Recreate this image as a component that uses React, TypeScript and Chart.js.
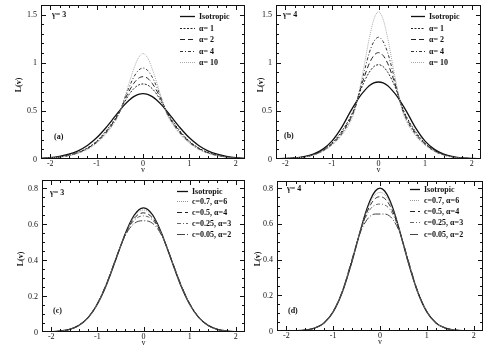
import React, { useEffect, useRef } from "react";
import { Chart, registerables } from "chart.js";
Chart.register(...registerables);

// shared velocity grid
const V = [-2.2, -2, -1.8, -1.6, -1.4, -1.2, -1, -0.8, -0.6, -0.5, -0.4, -0.3, -0.2, -0.1, 0, 0.1, 0.2, 0.3, 0.4, 0.5, 0.6, 0.8, 1, 1.2, 1.4, 1.6, 1.8, 2, 2.2];
const X_TICKS = [-2, -1, 0, 1, 2];
const Y_TICKS_TOP = [0, 0.5, 1, 1.5];
const Y_TICKS_BOTTOM = [0, 0.2, 0.4, 0.6, 0.8];
const TOP_LABELS = ["Isotropic", "α= 1", "α= 2", "α= 4", "α= 10"];
const BOTTOM_LABELS = ["Isotropic", "c=0.7, α=6", "c=0.5, α=4", "c=0.25, α=3", "c=0.05, α=2"];

// panel (a) gamma = 3
const A_ISO = [0.007, 0.014, 0.028, 0.05, 0.085, 0.14, 0.22, 0.325, 0.445, 0.505, 0.562, 0.61, 0.648, 0.672, 0.68, 0.672, 0.648, 0.61, 0.562, 0.505, 0.445, 0.325, 0.22, 0.14, 0.085, 0.05, 0.028, 0.014, 0.007];
const A_A1 = [0.005, 0.011, 0.022, 0.04, 0.068, 0.115, 0.185, 0.29, 0.42, 0.5, 0.59, 0.67, 0.73, 0.768, 0.78, 0.768, 0.73, 0.67, 0.59, 0.5, 0.42, 0.29, 0.185, 0.115, 0.068, 0.04, 0.022, 0.011, 0.005];
const A_A2 = [0.005, 0.011, 0.021, 0.038, 0.065, 0.11, 0.178, 0.28, 0.41, 0.495, 0.61, 0.705, 0.785, 0.838, 0.855, 0.838, 0.785, 0.705, 0.61, 0.495, 0.41, 0.28, 0.178, 0.11, 0.065, 0.038, 0.021, 0.011, 0.005];
const A_A4 = [0.005, 0.01, 0.02, 0.036, 0.062, 0.105, 0.172, 0.27, 0.4, 0.49, 0.625, 0.745, 0.85, 0.92, 0.945, 0.92, 0.85, 0.745, 0.625, 0.49, 0.4, 0.27, 0.172, 0.105, 0.062, 0.036, 0.02, 0.01, 0.005];
const A_A10 = [0.005, 0.01, 0.019, 0.034, 0.06, 0.1, 0.165, 0.258, 0.39, 0.485, 0.63, 0.79, 0.935, 1.05, 1.095, 1.05, 0.935, 0.79, 0.63, 0.485, 0.39, 0.258, 0.165, 0.1, 0.06, 0.034, 0.019, 0.01, 0.005];

// panel (b) gamma = 4
const B_ISO = [0.002, 0.005, 0.011, 0.024, 0.05, 0.1, 0.185, 0.32, 0.495, 0.575, 0.65, 0.71, 0.76, 0.79, 0.8, 0.79, 0.76, 0.71, 0.65, 0.575, 0.495, 0.32, 0.185, 0.1, 0.05, 0.024, 0.011, 0.005, 0.002];
const B_A1 = [0.002, 0.005, 0.01, 0.022, 0.045, 0.09, 0.165, 0.28, 0.44, 0.55, 0.695, 0.81, 0.9, 0.96, 0.98, 0.96, 0.9, 0.81, 0.695, 0.55, 0.44, 0.28, 0.165, 0.09, 0.045, 0.022, 0.01, 0.005, 0.002];
const B_A2 = [0.002, 0.005, 0.01, 0.021, 0.043, 0.086, 0.158, 0.265, 0.425, 0.54, 0.71, 0.86, 0.99, 1.075, 1.105, 1.075, 0.99, 0.86, 0.71, 0.54, 0.425, 0.265, 0.158, 0.086, 0.043, 0.021, 0.01, 0.005, 0.002];
const B_A4 = [0.002, 0.004, 0.009, 0.02, 0.041, 0.082, 0.15, 0.252, 0.41, 0.53, 0.72, 0.92, 1.1, 1.22, 1.265, 1.22, 1.1, 0.92, 0.72, 0.53, 0.41, 0.252, 0.15, 0.082, 0.041, 0.02, 0.009, 0.004, 0.002];
const B_A10 = [0.002, 0.004, 0.009, 0.019, 0.039, 0.078, 0.143, 0.24, 0.39, 0.52, 0.74, 0.99, 1.25, 1.45, 1.53, 1.45, 1.25, 0.99, 0.74, 0.52, 0.39, 0.24, 0.143, 0.078, 0.039, 0.019, 0.009, 0.004, 0.002];

// panel (c) gamma = 3
const C_ISO = [0.0005, 0.0017, 0.0054, 0.015, 0.037, 0.08, 0.155, 0.265, 0.404, 0.476, 0.545, 0.605, 0.652, 0.682, 0.692, 0.682, 0.652, 0.605, 0.545, 0.476, 0.404, 0.265, 0.155, 0.08, 0.037, 0.015, 0.0054, 0.0017, 0.0005];
const C_C07 = [0.0005, 0.0017, 0.0054, 0.015, 0.037, 0.08, 0.156, 0.266, 0.405, 0.476, 0.543, 0.6, 0.645, 0.671, 0.68, 0.671, 0.645, 0.6, 0.543, 0.476, 0.405, 0.266, 0.156, 0.08, 0.037, 0.015, 0.0054, 0.0017, 0.0005];
const C_C05 = [0.0005, 0.0017, 0.0054, 0.015, 0.037, 0.081, 0.157, 0.268, 0.406, 0.476, 0.541, 0.594, 0.634, 0.657, 0.664, 0.657, 0.634, 0.594, 0.541, 0.476, 0.406, 0.268, 0.157, 0.081, 0.037, 0.015, 0.0054, 0.0017, 0.0005];
const C_C025 = [0.0005, 0.0017, 0.0054, 0.015, 0.037, 0.081, 0.158, 0.27, 0.408, 0.477, 0.539, 0.588, 0.623, 0.642, 0.647, 0.642, 0.623, 0.588, 0.539, 0.477, 0.408, 0.27, 0.158, 0.081, 0.037, 0.015, 0.0054, 0.0017, 0.0005];
const C_C005 = [0.0005, 0.0017, 0.0054, 0.015, 0.037, 0.082, 0.16, 0.272, 0.41, 0.478, 0.535, 0.578, 0.605, 0.618, 0.62, 0.618, 0.605, 0.578, 0.535, 0.478, 0.41, 0.272, 0.16, 0.082, 0.037, 0.015, 0.0054, 0.0017, 0.0005];

// panel (d) gamma = 4
const D_ISO = [0.0001, 0.0003, 0.0012, 0.0047, 0.0156, 0.044, 0.107, 0.221, 0.388, 0.484, 0.58, 0.668, 0.738, 0.784, 0.8, 0.784, 0.738, 0.668, 0.58, 0.484, 0.388, 0.221, 0.107, 0.044, 0.0156, 0.0047, 0.0012, 0.0003, 0.0001];
const D_C07 = [0.0001, 0.0003, 0.0012, 0.0047, 0.0156, 0.044, 0.108, 0.222, 0.39, 0.485, 0.578, 0.66, 0.724, 0.764, 0.776, 0.764, 0.724, 0.66, 0.578, 0.485, 0.39, 0.222, 0.108, 0.044, 0.0156, 0.0047, 0.0012, 0.0003, 0.0001];
const D_C05 = [0.0001, 0.0003, 0.0012, 0.0048, 0.016, 0.045, 0.108, 0.223, 0.392, 0.486, 0.576, 0.652, 0.708, 0.742, 0.752, 0.742, 0.708, 0.652, 0.576, 0.486, 0.392, 0.223, 0.108, 0.045, 0.016, 0.0048, 0.0012, 0.0003, 0.0001];
const D_C025 = [0.0001, 0.0003, 0.0012, 0.0048, 0.016, 0.045, 0.109, 0.225, 0.395, 0.488, 0.573, 0.64, 0.685, 0.706, 0.711, 0.706, 0.685, 0.64, 0.573, 0.488, 0.395, 0.225, 0.109, 0.045, 0.016, 0.0048, 0.0012, 0.0003, 0.0001];
const D_C005 = [0.0001, 0.0003, 0.0012, 0.005, 0.016, 0.045, 0.11, 0.228, 0.4, 0.49, 0.565, 0.615, 0.645, 0.655, 0.655, 0.655, 0.645, 0.615, 0.565, 0.49, 0.4, 0.228, 0.11, 0.045, 0.016, 0.005, 0.0012, 0.0003, 0.0001];

type Style = { color: string; width: number; dash: number[] };
const TOP_STYLES: Style[] = [
  { color: "#111", width: 1.3, dash: [] },
  { color: "#222", width: 1, dash: [2, 1.5] },
  { color: "#222", width: 1, dash: [5, 3] },
  { color: "#333", width: 1, dash: [3, 2, 1, 2] },
  { color: "#aaa", width: 1, dash: [1, 1] },
];
const BOTTOM_STYLES: Style[] = [
  { color: "#111", width: 1.3, dash: [] },
  { color: "#999", width: 1, dash: [1, 1] },
  { color: "#222", width: 1, dash: [5, 3] },
  { color: "#666", width: 1, dash: [4, 2, 1, 2] },
  { color: "#444", width: 1, dash: [8, 2, 1, 2] },
];

const SERIF = "'Liberation Serif', 'DejaVu Serif', serif";

type PanelDef = {
  gamma: string;
  tag: string;
  series: number[][];
  labels: string[];
  styles: Style[];
  yMax: number;
  yTicks: number[];
  yMinor: number;
  yMajor: number;
  box: { left: number; top: number; w: number; h: number };
  yw: number;
  padTop: number;
  padRight: number;
  xh: number;
  legend: { x: number; y: number; dy: number; len: number; gap: number };
  gammaPos: [number, number];
  tagPos: [number, number];
  titleDX: number;
};

const PANELS: PanelDef[] = [
  {
    gamma: "γ= 3", tag: "(a)", series: [A_ISO, A_A1, A_A2, A_A4, A_A10], labels: TOP_LABELS, styles: TOP_STYLES,
    yMax: 1.6, yTicks: Y_TICKS_TOP, yMinor: 0.1, yMajor: 0.5,
    box: { left: 0, top: 0, w: 250, h: 175 }, yw: 41, padTop: 5, padRight: 5, xh: 16,
    legend: { x: 139, y: 11, dy: 11.6, len: 15, gap: 4 }, gammaPos: [11, 10], tagPos: [13, -22], titleDX: -22,
  },
  {
    gamma: "γ= 4", tag: "(b)", series: [B_ISO, B_A1, B_A2, B_A4, B_A10], labels: TOP_LABELS, styles: TOP_STYLES,
    yMax: 1.6, yTicks: Y_TICKS_TOP, yMinor: 0.1, yMajor: 0.5,
    box: { left: 240, top: 0, w: 249, h: 175 }, yw: 36, padTop: 5, padRight: 8, xh: 16,
    legend: { x: 135, y: 11, dy: 11.6, len: 14, gap: 4 }, gammaPos: [7, 10], tagPos: [8, -23], titleDX: -15,
  },
  {
    gamma: "γ= 3", tag: "(c)", series: [C_ISO, C_C07, C_C05, C_C025, C_C005], labels: BOTTOM_LABELS, styles: BOTTOM_STYLES,
    yMax: 0.85, yTicks: Y_TICKS_BOTTOM, yMinor: 0.05, yMajor: 0.2,
    box: { left: 0, top: 175, w: 250, h: 175 }, yw: 42, padTop: 4.5, padRight: 5, xh: 18,
    legend: { x: 135, y: 10.5, dy: 10.8, len: 11, gap: 4 }, gammaPos: [8, 13], tagPos: [11, -21], titleDX: -21,
  },
  {
    gamma: "γ= 4", tag: "(d)", series: [D_ISO, D_C07, D_C05, D_C025, D_C005], labels: BOTTOM_LABELS, styles: BOTTOM_STYLES,
    yMax: 0.84, yTicks: Y_TICKS_BOTTOM, yMinor: 0.05, yMajor: 0.2,
    box: { left: 240, top: 175, w: 249, h: 175 }, yw: 37, padTop: 6, padRight: 6, xh: 19,
    legend: { x: 133, y: 7.5, dy: 11.3, len: 10, gap: 4 }, gammaPos: [10, 8], tagPos: [11, -20], titleDX: -19,
  },
];

function buildChart(canvas: HTMLCanvasElement, p: PanelDef) {
  const framePlugin = {
    id: "frame",
    afterDraw(chart: any) {
      const ctx: CanvasRenderingContext2D = chart.ctx;
      const ca = chart.chartArea;
      const xs = chart.scales.x;
      const ys = chart.scales.y;
      const left = Math.round(ca.left);
      const right = Math.round(ca.right);
      const top = Math.round(ca.top);
      const bottom = Math.round(ca.bottom);
      ctx.save();
      ctx.setLineDash([]);
      ctx.globalAlpha = 1;
      ctx.fillStyle = "#111";
      // frame
      ctx.fillRect(left, top, right - left, 1);
      ctx.fillRect(left, bottom - 1, right - left, 1);
      ctx.fillRect(left, top, 1, bottom - top);
      ctx.fillRect(right - 1, top, 1, bottom - top);
      // x ticks: major every 1, minor every 0.2
      for (let i = -11; i <= 11; i++) {
        const px = Math.round(xs.getPixelForValue(i * 0.2));
        if (px < left + 1 || px > right - 2) continue;
        const L = i % 5 === 0 ? 5 : 3;
        ctx.fillRect(px, bottom - L, 1, L);
        ctx.fillRect(px, top, 1, L);
      }
      const nMinor = Math.round(p.yMax / p.yMinor);
      const ratio = Math.round(p.yMajor / p.yMinor);
      for (let i = 0; i <= nMinor; i++) {
        const py = Math.round(ys.getPixelForValue(i * p.yMinor));
        if (py < top + 1 || py > bottom - 2) continue;
        const L = i % ratio === 0 ? 5 : 3;
        ctx.fillRect(left, py, L, 1);
        ctx.fillRect(right - L, py, L, 1);
      }
      // tick labels
      ctx.font = `8px ${SERIF}`;
      ctx.fillStyle = "#111";
      ctx.textBaseline = "middle";
      ctx.textAlign = "center";
      X_TICKS.forEach((v) => {
        ctx.fillText(String(v), xs.getPixelForValue(v), bottom + 5);
      });
      ctx.textAlign = "right";
      p.yTicks.forEach((v) => {
        ctx.fillText(String(v), left - 4, ys.getPixelForValue(v) + 0.5);
      });
      // axis titles
      ctx.textAlign = "center";
      ctx.fillText("v", (left + right) / 2, bottom + 10.5);
      ctx.save();
      ctx.translate(left + p.titleDX, (top + bottom) / 2 + 3);
      ctx.rotate(-Math.PI / 2);
      ctx.font = `bold 8px ${SERIF}`;
      ctx.fillText("L(v)", 0, 0);
      ctx.restore();
      // legend
      ctx.textAlign = "left";
      ctx.font = `bold 8px ${SERIF}`;
      p.labels.forEach((lab, i) => {
        const st = p.styles[i];
        const y = Math.round(top + p.legend.y + i * p.legend.dy) + 0.5;
        const x0 = left + p.legend.x;
        ctx.strokeStyle = st.color;
        ctx.lineWidth = st.width;
        ctx.setLineDash(st.dash);
        ctx.beginPath();
        ctx.moveTo(x0, y);
        ctx.lineTo(x0 + p.legend.len, y);
        ctx.stroke();
        ctx.setLineDash([]);
        ctx.fillStyle = "#111";
        ctx.fillText(lab, x0 + p.legend.len + p.legend.gap, y);
      });
      // gamma and panel tag
      ctx.fillText(p.gamma, left + p.gammaPos[0], top + p.gammaPos[1]);
      ctx.fillText(p.tag, left + p.tagPos[0], bottom + p.tagPos[1]);
      ctx.restore();
    },
  };

  const fixBox = (s: any, key: "width" | "height", val: number) => {
    s[key] = val;
    s.paddingTop = 0;
    s.paddingBottom = 0;
    s.paddingLeft = 0;
    s.paddingRight = 0;
  };

  return new Chart(canvas, {
    type: "line",
    data: {
      datasets: p.series
        .map((vals, i) => ({
          label: p.labels[i],
          data: V.map((v, j) => ({ x: v, y: vals[j] })),
          borderColor: p.styles[i].color,
          borderWidth: p.styles[i].width,
          borderDash: p.styles[i].dash,
          pointRadius: 0,
          fill: false,
          cubicInterpolationMode: "monotone",
        }))
        .reverse(),
    },
    options: {
      animation: false,
      responsive: false,
      maintainAspectRatio: false,
      layout: { padding: { top: p.padTop, right: p.padRight, left: 0, bottom: 0 } },
      plugins: { legend: { display: false }, tooltip: { enabled: false } },
      scales: {
        x: {
          type: "linear",
          min: -2.2,
          max: 2.2,
          grid: { display: false },
          border: { display: false },
          ticks: { display: false },
          afterBuildTicks: (s: any) => { s.ticks = X_TICKS.map((v) => ({ value: v })); },
          afterFit: (s: any) => fixBox(s, "height", p.xh),
        },
        y: {
          type: "linear",
          min: 0,
          max: p.yMax,
          grid: { display: false },
          border: { display: false },
          ticks: { display: false },
          afterBuildTicks: (s: any) => { s.ticks = p.yTicks.map((v) => ({ value: v })); },
          afterFit: (s: any) => fixBox(s, "width", p.yw),
        },
      },
    } as any,
    plugins: [framePlugin],
  });
}

function Panel({ p }: { p: PanelDef }) {
  const ref = useRef<HTMLCanvasElement | null>(null);
  useEffect(() => {
    if (!ref.current) return;
    const chart = buildChart(ref.current, p);
    return () => chart.destroy();
  }, [p]);
  return (
    <canvas
      ref={ref}
      width={p.box.w}
      height={p.box.h}
      style={{ position: "absolute", left: p.box.left, top: p.box.top, width: p.box.w, height: p.box.h }}
    />
  );
}

export default function App() {
  return (
    <div style={{ position: "absolute", left: 0, top: 0, width: 489, height: 350, background: "#fff", overflow: "hidden" }}>
      {PANELS.map((p, i) => (
        <Panel key={i} p={p} />
      ))}
    </div>
  );
}
